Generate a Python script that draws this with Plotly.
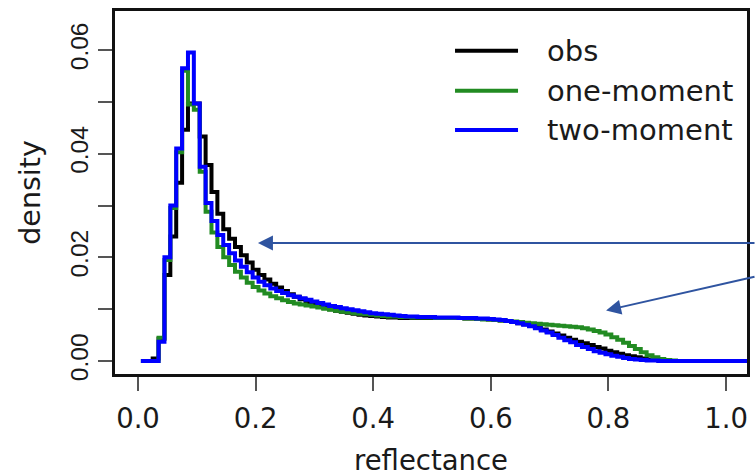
import plotly.graph_objects as go

# Reflectance bins (midpoints of 0.01-wide bins)
bin_width = 0.01
reflectance = [round(0.005 + bin_width * i, 3) for i in range(105)]

obs = [
    0, 0, 0.0005, 0.0043, 0.0166, 0.0240, 0.0344, 0.0446, 0.0497, 0.0497,
    0.0433, 0.0378, 0.0326, 0.0284, 0.0254, 0.0236, 0.0220, 0.0204, 0.0190, 0.0176,
    0.0166, 0.0157, 0.0149, 0.0142, 0.0135, 0.0129, 0.0124, 0.0119, 0.0114, 0.0110,
    0.0106, 0.0103, 0.0100, 0.0097, 0.0095, 0.0093, 0.0091, 0.0089, 0.0088, 0.0087,
    0.0086, 0.0085, 0.0084, 0.0084, 0.0083, 0.0083, 0.0083, 0.0083, 0.0083, 0.0083,
    0.0083, 0.0083, 0.0083, 0.0083, 0.0083, 0.0082, 0.0082, 0.0081, 0.0081, 0.0080,
    0.0079, 0.0078, 0.0077, 0.0075, 0.0073, 0.0071, 0.0068, 0.0065, 0.0061, 0.0057,
    0.0053, 0.0049, 0.0045, 0.0041, 0.0037, 0.0034, 0.0031, 0.0027, 0.0024, 0.0020,
    0.0017, 0.0014, 0.0011, 0.0009, 0.0007, 0.0005, 0.0003, 0.0002, 0.0001, 0.0001,
    0, 0, 0, 0, 0, 0, 0, 0, 0, 0,
    0, 0, 0, 0, 0,
]

one_moment = [
    0, 0, 0, 0.0045, 0.0195, 0.0295, 0.0403, 0.0560, 0.0495, 0.0485,
    0.0365, 0.0288, 0.0248, 0.0220, 0.0200, 0.0185, 0.0172, 0.0161, 0.0151, 0.0143,
    0.0136, 0.0130, 0.0125, 0.0121, 0.0117, 0.0114, 0.0111, 0.0109, 0.0107, 0.0105,
    0.0103, 0.0101, 0.0099, 0.0097, 0.0095, 0.0094, 0.0092, 0.0091, 0.0090, 0.0089,
    0.0088, 0.0087, 0.0086, 0.0086, 0.0085, 0.0085, 0.0084, 0.0084, 0.0084, 0.0084,
    0.0083, 0.0083, 0.0083, 0.0083, 0.0083, 0.0082, 0.0082, 0.0081, 0.0080, 0.0080,
    0.0079, 0.0078, 0.0077, 0.0076, 0.0075, 0.0074, 0.0073, 0.0072, 0.0071, 0.0070,
    0.0069, 0.0068, 0.0067, 0.0066, 0.0065, 0.0063, 0.0061, 0.0058, 0.0055, 0.0051,
    0.0046, 0.0041, 0.0035, 0.0029, 0.0023, 0.0017, 0.0011, 0.0007, 0.0004, 0.0002,
    0.0001, 0, 0, 0, 0, 0, 0, 0, 0, 0,
    0, 0, 0, 0, 0,
]

two_moment = [
    0, 0, 0, 0.0037, 0.0200, 0.0300, 0.0410, 0.0565, 0.0595, 0.0497,
    0.0375, 0.0305, 0.0270, 0.0243, 0.0224, 0.0208, 0.0194, 0.0182, 0.0171, 0.0161,
    0.0153, 0.0146, 0.0140, 0.0135, 0.0131, 0.0127, 0.0124, 0.0121, 0.0118, 0.0115,
    0.0112, 0.0109, 0.0106, 0.0104, 0.0102, 0.0100, 0.0098, 0.0096, 0.0094, 0.0092,
    0.0091, 0.0090, 0.0089, 0.0088, 0.0087, 0.0086, 0.0086, 0.0085, 0.0085, 0.0085,
    0.0084, 0.0084, 0.0084, 0.0084, 0.0083, 0.0083, 0.0083, 0.0082, 0.0082, 0.0081,
    0.0080, 0.0079, 0.0077, 0.0075, 0.0073, 0.0070, 0.0067, 0.0063, 0.0059, 0.0055,
    0.0050, 0.0045, 0.0040, 0.0036, 0.0031, 0.0027, 0.0023, 0.0019, 0.0016, 0.0013,
    0.0010, 0.0008, 0.0006, 0.0004, 0.0003, 0.0002, 0.0001, 0.0001, 0, 0,
    0, 0, 0, 0, 0, 0, 0, 0, 0, 0,
    0, 0, 0, 0, 0,
]

series_names = ["obs", "one-moment", "two-moment"]
series_values = [obs, one_moment, two_moment]
series_colors = ["#000000", "#228B22", "#0000FF"]

x_ticks = [0.0, 0.2, 0.4, 0.6, 0.8, 1.0]
x_ticklabels = ["0.0", "0.2", "0.4", "0.6", "0.8", "1.0"]
y_ticks = [0.00, 0.01, 0.02, 0.03, 0.04, 0.05, 0.06]
y_ticklabels = ["0.00", "", "0.02", "", "0.04", "", "0.06"]

FONT = "DejaVu Sans, Liberation Sans, Arial, sans-serif"
NARROW_FONT = "Liberation Sans, Arial, Helvetica, sans-serif"
FSIZE = 27.5
TEXT_COLOR = "#1a1a1a"
ARROW_COLOR = "#2F54A0"

fig = go.Figure()
for name, vals, col in zip(series_names, series_values, series_colors):
    fig.add_trace(go.Scatter(
        x=reflectance, y=vals, name=name, mode="lines",
        line=dict(color=col, width=4, shape="hv"),
        showlegend=False,
    ))

# Hand-built legend: long line samples with labels, no frame
legend_rows_y = [0.8906, 0.7804, 0.6722]
for name, col, ly in zip(series_names, series_colors, legend_rows_y):
    fig.add_shape(type="line", xref="paper", yref="paper",
                  x0=0.538, x1=0.6377, y0=ly, y1=ly,
                  line=dict(color=col, width=4))
    fig.add_annotation(xref="paper", yref="paper", x=0.68, y=ly,
                       text=name, showarrow=False, xanchor="left",
                       yanchor="middle",
                       font=dict(family=FONT, size=29, color=TEXT_COLOR))

# Pointer arrows coming in from the right
fig.add_annotation(x=0.204, y=0.02277, xref="x", yref="y", text="",
                   showarrow=True, ax=520, ay=0, axref="pixel", ayref="pixel",
                   arrowhead=2, arrowsize=1.5, arrowwidth=2,
                   arrowcolor=ARROW_COLOR, standoff=0)
fig.add_annotation(x=0.796, y=0.00974, xref="x", yref="y", text="",
                   showarrow=True, ax=160, ay=-34, axref="pixel", ayref="pixel",
                   arrowhead=2, arrowsize=1.5, arrowwidth=2,
                   arrowcolor=ARROW_COLOR, standoff=0)

axis_common = dict(
    showgrid=False, zeroline=False, showline=True, mirror=True,
    linecolor="#111", linewidth=2.5,
    ticks="outside", ticklen=14, tickwidth=2, tickcolor="#555",
)

fig.update_xaxes(
    range=[-0.0391, 1.0357], tickvals=x_ticks, ticktext=x_ticklabels,
    ticklabelstandoff=4,
    tickfont=dict(family=FONT, size=FSIZE, color=TEXT_COLOR),
    title=dict(text="reflectance", font=dict(family=FONT, size=FSIZE, color=TEXT_COLOR),
               standoff=20),
    **axis_common,
)
fig.update_yaxes(
    range=[-0.00251, 0.06753], tickvals=y_ticks, ticktext=y_ticklabels,
    tickangle=-90,
    tickfont=dict(family=NARROW_FONT, size=24.5, color=TEXT_COLOR),
    title=dict(text="density", font=dict(family=FONT, size=28.5, color=TEXT_COLOR),
               standoff=18),
    **axis_common,
)

fig.update_layout(
    width=756, height=476,
    margin=dict(l=115, r=9, t=11, b=102, autoexpand=False),
    paper_bgcolor="white", plot_bgcolor="white",
    showlegend=False,
)

fig.write_html("out.html")
